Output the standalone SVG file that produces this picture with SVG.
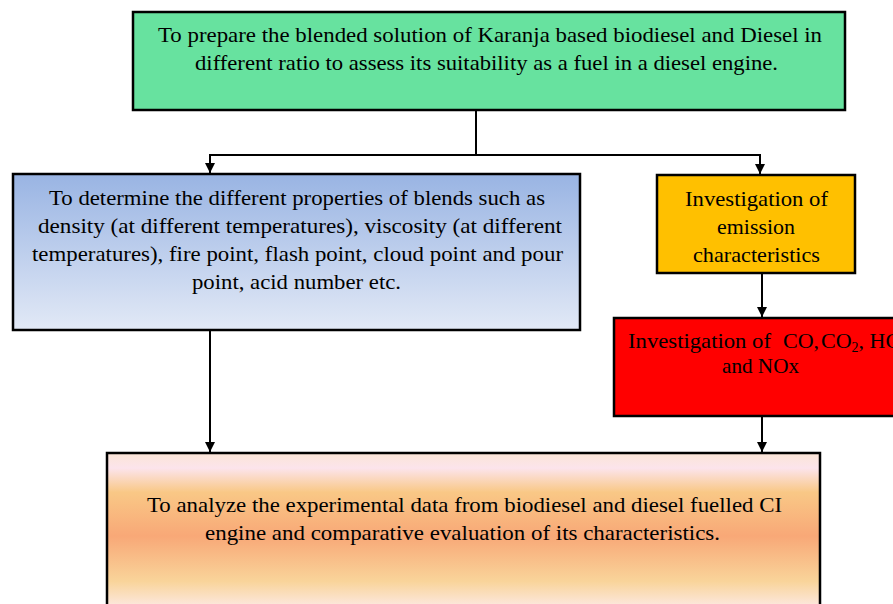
<svg xmlns="http://www.w3.org/2000/svg" width="893" height="604" viewBox="0 0 893 604">
<style>
.box{stroke:#000;stroke-width:2.5}
.t{font-family:"Liberation Serif","Times New Roman",serif;font-size:22px;fill:#000}
.c{text-anchor:middle}
.con{stroke:#000;stroke-width:2;fill:none}
</style>
<defs>
<marker id="ah" markerWidth="10" markerHeight="10" refX="10" refY="5" orient="auto" markerUnits="userSpaceOnUse" viewBox="0 0 10 10">
<path d="M0,0 L10,5 L0,10 Z" fill="#000"/>
</marker>
<linearGradient id="gBlue" x1="0" y1="0" x2="0" y2="1">
<stop offset="0" stop-color="#99B4E3"/>
<stop offset="1" stop-color="#E2E9F6"/>
</linearGradient>
<linearGradient id="gOrange" gradientUnits="userSpaceOnUse" x1="0" y1="453" x2="0" y2="604">
<stop offset="0" stop-color="#FBE5D6"/>
<stop offset="0.1" stop-color="#FCE4EC"/>
<stop offset="0.26" stop-color="#F9C886"/>
<stop offset="0.55" stop-color="#F8A877"/>
<stop offset="0.85" stop-color="#F9D49A"/>
<stop offset="1" stop-color="#FCE6D8"/>
</linearGradient>
</defs>

<g id="connectors">
<path class="con" d="M476,110 V155 M209,155 H761"/>
<path class="con" d="M210,155 V173" marker-end="url(#ah)"/>
<path class="con" d="M760,155 V174" marker-end="url(#ah)"/>
<path class="con" d="M762,273 V317" marker-end="url(#ah)"/>
<path class="con" d="M762,416 V452" marker-end="url(#ah)"/>
<path class="con" d="M210,330 V452" marker-end="url(#ah)"/>
</g>

<g id="node-prepare">
<rect class="box" x="133" y="12" width="712" height="98" fill="#67E29F"/>
<text class="t" x="158" y="42" textLength="664" lengthAdjust="spacingAndGlyphs">To prepare the blended solution of Karanja based biodiesel and Diesel in</text>
<text class="t" x="195" y="70" textLength="583" lengthAdjust="spacingAndGlyphs">different ratio to assess its suitability as a fuel in a diesel engine.</text>
</g>

<g id="node-properties">
<rect class="box" x="13" y="174" width="567" height="156" fill="url(#gBlue)"/>
<text class="t" x="49" y="205" textLength="496" lengthAdjust="spacingAndGlyphs">To determine the different properties of blends such as</text>
<text class="t" x="38" y="233" textLength="524" lengthAdjust="spacingAndGlyphs">density (at different temperatures), viscosity (at different</text>
<text class="t" x="32" y="261" textLength="531" lengthAdjust="spacingAndGlyphs">temperatures), fire point, flash point, cloud point and pour</text>
<text class="t" x="192" y="289" textLength="209" lengthAdjust="spacingAndGlyphs">point, acid number etc.</text>
</g>

<g id="node-emission">
<rect class="box" x="657" y="175" width="198" height="98" fill="#FFC000"/>
<text class="t" x="685" y="206" textLength="143" lengthAdjust="spacingAndGlyphs">Investigation of</text>
<text class="t" x="717" y="234" textLength="78" lengthAdjust="spacingAndGlyphs">emission</text>
<text class="t" x="693" y="262" textLength="127" lengthAdjust="spacingAndGlyphs">characteristics</text>
</g>

<g id="node-gases">
<rect class="box" x="614" y="318" width="300" height="98" fill="#FF0000"/>
<text class="t" x="628" y="348" textLength="143" lengthAdjust="spacingAndGlyphs">Investigation of</text>
<text class="t" x="783" y="348">CO,</text>
<text class="t" x="821" y="348">CO<tspan font-size="14" dy="4">2</tspan><tspan dy="-4">, HC</tspan></text>
<text class="t" x="722" y="373" textLength="77" lengthAdjust="spacingAndGlyphs">and NOx</text>
</g>

<g id="node-analyze">
<rect class="box" x="107" y="453" width="713" height="170" fill="url(#gOrange)"/>
<text class="t" x="147" y="512" textLength="635" lengthAdjust="spacingAndGlyphs">To analyze the experimental data from biodiesel and diesel fuelled CI</text>
<text class="t" x="205" y="540" textLength="515" lengthAdjust="spacingAndGlyphs">engine and comparative evaluation of its  characteristics.</text>
</g>
</svg>
